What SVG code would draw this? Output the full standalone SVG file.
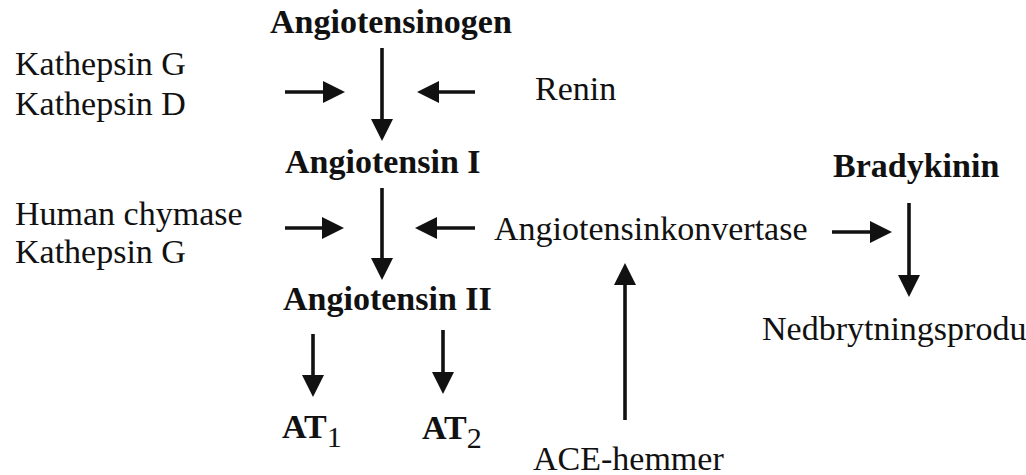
<svg xmlns="http://www.w3.org/2000/svg" width="1026" height="475" viewBox="0 0 1026 475">
<style>
text{font-family:"Liberation Serif","Times New Roman",serif;font-size:34px;fill:#111}
.b{font-weight:bold}
.sub{font-size:30px;font-weight:normal}
.c line{stroke:#111;stroke-width:3.6;fill:none;marker-end:url(#ah)}
</style>
<defs>
<marker id="ah" markerUnits="userSpaceOnUse" markerWidth="22" markerHeight="22" refX="10" refY="11" orient="auto" overflow="visible">
<path d="M0,0 L22,11 L0,22 z" fill="#111"/>
</marker>
</defs>
<rect width="1026" height="475" fill="#fff"/>
<g id="angiotensinogen"><text class="b" x="270" y="33">Angiotensinogen</text></g>
<g id="kathepsin-gd"><text x="15" y="75">Kathepsin G</text><text x="15" y="115">Kathepsin D</text></g>
<g id="renin"><text x="535" y="100">Renin</text></g>
<g id="angiotensin-i"><text class="b" x="285" y="173">Angiotensin I</text></g>
<g id="chymase"><text x="15" y="225">Human chymase</text><text x="15" y="263">Kathepsin G</text></g>
<g id="konvertase"><text x="494" y="240">Angiotensinkonvertase</text></g>
<g id="bradykinin"><text class="b" x="833" y="177">Bradykinin</text></g>
<g id="angiotensin-ii"><text class="b" x="283" y="310">Angiotensin II</text></g>
<g id="nedbrytning"><text x="762" y="340">Nedbrytningsprodu</text></g>
<g id="at1"><text class="b" x="282" y="438">AT<tspan class="sub" dy="9">1</tspan></text></g>
<g id="at2"><text class="b" x="422" y="439">AT<tspan class="sub" dy="9">2</tspan></text></g>
<g id="ace-hemmer"><text x="533" y="470">ACE-hemmer</text></g>
<g id="connectors" class="c">
<line x1="285" y1="92" x2="333" y2="92"/>
<line x1="475" y1="92" x2="429" y2="92"/>
<line x1="382" y1="48" x2="382" y2="129"/>
<line x1="285" y1="228" x2="332" y2="228"/>
<line x1="475" y1="228" x2="427" y2="228"/>
<line x1="382" y1="188" x2="382" y2="268"/>
<line x1="313" y1="334" x2="313" y2="385"/>
<line x1="443" y1="330" x2="443" y2="382"/>
<line x1="625" y1="420" x2="625" y2="275"/>
<line x1="832" y1="232" x2="880" y2="232"/>
<line x1="909" y1="203" x2="909" y2="285"/>
</g>
</svg>
